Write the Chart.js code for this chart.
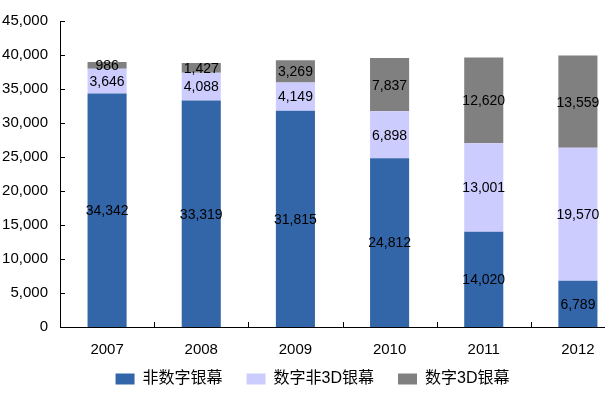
<!DOCTYPE html>
<html>
<head>
<meta charset="utf-8">
<script src="https://cdn.jsdelivr.net/npm/chart.js@4/dist/chart.umd.min.js"></script>
<style>
  html, body { margin: 0; padding: 0; background: #fff; overflow: hidden; }
  #wrap { width: 630px; height: 398px; position: relative; }
</style>
</head>
<body>
<div id="wrap"><canvas id="c"></canvas></div>
<script>
  var FONT = '"Liberation Sans", Arial, "Noto Sans CJK SC", sans-serif';

  var years = ['2007', '2008', '2009', '2010', '2011', '2012'];
  var nonDigital = [34342, 33319, 31815, 24812, 14020, 6789];
  var digital2D = [3646, 4088, 4149, 6898, 13001, 19570];
  var digital3D = [986, 1427, 3269, 7837, 12620, 13559];
  var seriesNames = ['非数字银幕', '数字非3D银幕', '数字3D银幕'];
  var colors = ['#3366a8', '#ccccff', '#808080'];

  var LEGEND_SHIFT = 18;  // legend sits closer to the axis labels than Chart.js allows

  // value labels in the middle of each stacked segment
  var segLabels = {
    id: 'segLabels',
    afterDatasetsDraw: function (chart) {
      var ctx = chart.ctx;
      ctx.save();
      ctx.font = '14px ' + FONT;
      ctx.fillStyle = '#000';
      ctx.textAlign = 'center';
      ctx.textBaseline = 'middle';
      chart.data.datasets.forEach(function (ds, di) {
        var meta = chart.getDatasetMeta(di);
        meta.data.forEach(function (bar, i) {
          var v = ds.data[i];
          ctx.fillText(v.toLocaleString('en-US'), bar.x, (bar.y + bar.base) / 2 + 1);
        });
      });
      ctx.restore();
    }
  };

  // axis lines with short inward tick marks
  var axisTicks = {
    id: 'axisTicks',
    afterDraw: function (chart) {
      var ctx = chart.ctx, a = chart.chartArea;
      var x = chart.scales.x, y = chart.scales.y;
      ctx.save();
      ctx.strokeStyle = '#000';
      ctx.lineWidth = 1;
      ctx.beginPath();
      ctx.moveTo(a.left + 0.5, a.top);
      ctx.lineTo(a.left + 0.5, a.bottom + 0.5);
      ctx.lineTo(a.right, a.bottom + 0.5);
      y.ticks.forEach(function (t, i) {
        var py = Math.round(y.getPixelForTick(i)) + 0.5;
        ctx.moveTo(a.left, py);
        ctx.lineTo(a.left + 5, py);
      });
      for (var i = 1; i < years.length; i++) {
        var px = Math.round((x.getPixelForValue(i - 1) + x.getPixelForValue(i)) / 2) + 0.5;
        ctx.moveTo(px, a.bottom);
        ctx.lineTo(px, a.bottom - 5);
      }
      ctx.stroke();
      ctx.restore();
    }
  };

  // shrink the legend's layout box, then stretch it back upward so it
  // tucks under the year labels without stealing height from the plot
  var legendTuck = {
    id: 'legendTuck',
    afterInit: function (chart) {
      var lg = chart.legend, fit = lg.fit;
      lg.fit = function () { fit.call(this); this.height -= LEGEND_SHIFT; };
    },
    afterLayout: function (chart) {
      var lg = chart.legend;
      lg.top -= LEGEND_SHIFT;
      lg.height = lg.bottom - lg.top;
    }
  };

  new Chart(document.getElementById('c'), {
    type: 'bar',
    data: {
      labels: years,
      datasets: [nonDigital, digital2D, digital3D].map(function (d, i) {
        return {
          label: seriesNames[i], data: d, backgroundColor: colors[i],
          borderWidth: 0, categoryPercentage: 1, barPercentage: 0.415
        };
      })
    },
    options: {
      responsive: true,
      maintainAspectRatio: false,
      animation: false,
      layout: { padding: { top: 18, right: 5, left: 0, bottom: 1 } },
      plugins: {
        legend: {
          position: 'bottom',
          labels: {
            font: { family: FONT, size: 16 }, color: '#000',
            boxWidth: 19, boxHeight: 11, padding: 24
          }
        },
        tooltip: { enabled: false }
      },
      scales: {
        x: {
          stacked: true,
          grid: { display: false, drawTicks: false },
          border: { display: false },
          ticks: { font: { family: FONT, size: 15 }, color: '#000', padding: 14 },
          afterFit: function (s) { s.height = 38; }
        },
        y: {
          stacked: true,
          min: 0, max: 45000,
          grid: { display: false, drawTicks: false },
          border: { display: false },
          ticks: {
            stepSize: 5000, font: { family: FONT, size: 15 }, color: '#000', padding: 12,
            callback: function (v) { return v.toLocaleString('en-US'); }
          },
          afterFit: function (s) { s.width = 60; }
        }
      }
    },
    plugins: [segLabels, axisTicks, legendTuck]
  });
</script>
</body>
</html>
